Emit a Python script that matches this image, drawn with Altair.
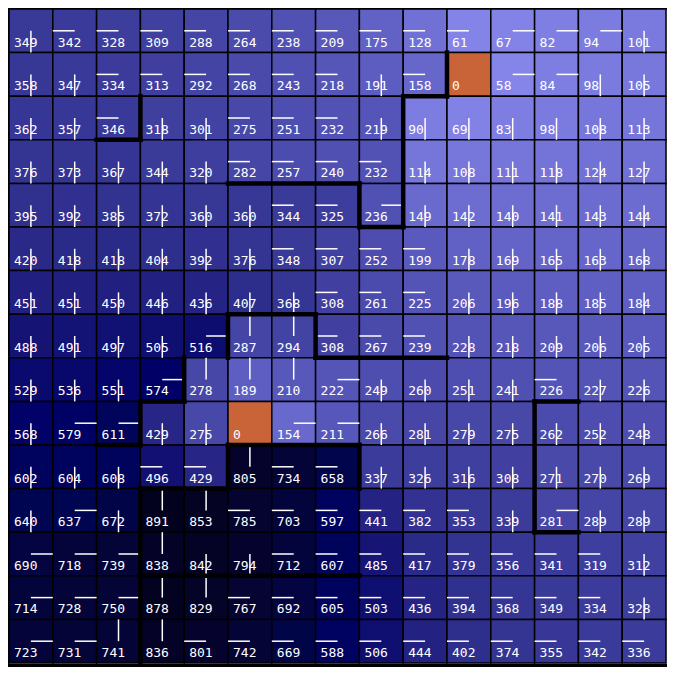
import altair as alt
import pandas as pd

# State values of the 15x15 grid (row 0 = top)
values = [
    [349, 342, 328, 309, 288, 264, 238, 209, 175, 128, 61, 67, 82, 94, 101],
    [358, 347, 334, 313, 292, 268, 243, 218, 191, 158, 0, 58, 84, 98, 105],
    [362, 357, 346, 318, 301, 275, 251, 232, 219, 90, 69, 83, 98, 108, 113],
    [376, 373, 367, 344, 320, 282, 257, 240, 232, 114, 108, 111, 118, 124, 127],
    [395, 392, 385, 372, 360, 360, 344, 325, 236, 149, 142, 140, 141, 143, 144],
    [420, 418, 418, 404, 392, 376, 348, 307, 252, 199, 178, 169, 165, 163, 168],
    [451, 451, 450, 446, 436, 407, 368, 308, 261, 225, 206, 196, 188, 185, 184],
    [488, 491, 497, 505, 516, 287, 294, 308, 267, 239, 228, 218, 209, 206, 205],
    [529, 536, 551, 574, 278, 189, 210, 222, 249, 260, 251, 241, 226, 227, 226],
    [568, 579, 611, 429, 275, 0, 154, 211, 266, 281, 279, 275, 262, 252, 248],
    [602, 604, 608, 496, 429, 805, 734, 658, 337, 326, 316, 308, 271, 270, 269],
    [640, 637, 672, 891, 853, 785, 703, 597, 441, 382, 353, 339, 281, 289, 289],
    [690, 718, 739, 838, 842, 794, 712, 607, 485, 417, 379, 356, 341, 319, 312],
    [714, 728, 750, 878, 829, 767, 692, 605, 503, 436, 394, 368, 349, 334, 328],
    [723, 731, 741, 836, 801, 742, 669, 588, 506, 444, 402, 374, 355, 342, 336],
]

# Policy glyph per cell: U/D/L/R, "." = none
arrows = [
    "DLLLLLLLLLLRRRD",
    "DDLLLLLLDL.RRDD",
    "DDLDDLLLDDDDDDD",
    "DDDDDLLLLDDDDDD",
    "DDDDDDLLRDDDDDD",
    "DDDDDDLLLLDDDDD",
    "DDDDDDDLLLDDDDD",
    "DDDDRUULLLDDDDD",
    "DDDRUUURDDDDLDD",
    "DRRDD.RRDDDDDDD",
    "DDDLLULLDDDDDDD",
    "DRDUULLLLLLDRDD",
    "RRRUDDLLLLLLLLD",
    "RRRUULLLLLLLLLD",
    "RRUULLLLLLLLLLL",
]

# Wall segments in grid units (x1, y1, x2, y2)
walls = [
    (2, 3, 3, 3), (3, 2, 3, 3),
    (10, 1, 10, 2), (9, 2, 10, 2), (9, 2, 9, 5), (8, 5, 9, 5), (8, 4, 8, 5), (5, 4, 8, 4),
    (5, 7, 7, 7), (5, 7, 5, 8), (7, 7, 7, 8), (7, 8, 10, 8),
    (4, 8, 4, 9), (3, 9, 4, 9), (3, 9, 3, 10), (2, 10, 3, 10),
    (3, 11, 5, 11), (5, 10, 5, 11), (5, 10, 8, 10), (8, 10, 8, 11), (3, 11, 3, 15), (3, 13, 8, 13),
    (12, 9, 13, 9), (12, 9, 12, 12), (12, 12, 13, 12),
]

color_domain = [0, 100, 200, 300, 400, 500, 575, 700, 900]
color_range = ["#9494f8", "#7a7ade", "#5a5abe", "#4242a2", "#2f2f8e",
               "#101072", "#000066", "#04043e", "#02021c"]

step = {"U": (0, -0.5), "D": (0, 0.5), "L": (-0.5, 0), "R": (0.5, 0)}
cells = []
for r, row in enumerate(values):
    for c, v in enumerate(row):
        a = arrows[r][c]
        cx, cy = c + 0.5, r + 0.5
        d = step.get(a, (0, 0))
        cells.append(dict(r=r, c=c, r2=r + 1, c2=c + 1, v=v, a=a,
                          cx=cx, cy=cy, ex=cx + d[0], ey=cy + d[1]))
df = pd.DataFrame(cells)
wdf = pd.DataFrame(walls, columns=["x1", "y1", "x2", "y2"])

xs = alt.Scale(domain=[0, 15], nice=False, zero=False)
ys = alt.Scale(domain=[0, 15], nice=False, zero=False, reverse=True)

rects = alt.Chart(df).mark_rect(stroke="black", strokeWidth=1.5).encode(
    x=alt.X("c:Q", scale=xs, axis=None),
    x2="c2:Q",
    y=alt.Y("r:Q", scale=ys, axis=None),
    y2="r2:Q",
    color=alt.condition(
        "datum.v == 0",
        alt.value("#c86438"),
        alt.Color("v:Q", scale=alt.Scale(domain=color_domain, range=color_range), legend=None),
    ),
)

glyphs = alt.Chart(df).transform_filter("datum.a != '.'").mark_rule(
    color="white", strokeWidth=1.5
).encode(
    x=alt.X("cx:Q", scale=xs, axis=None),
    y=alt.Y("cy:Q", scale=ys, axis=None),
    x2="ex:Q",
    y2="ey:Q",
)

labels = alt.Chart(df).mark_text(
    color="white", font="DejaVu Sans Mono", fontSize=13,
    align="left", baseline="alphabetic", dx=5, dy=-6
).encode(
    x=alt.X("c:Q", scale=xs, axis=None),
    y=alt.Y("r2:Q", scale=ys, axis=None),
    text="v:Q",
)

wall_marks = alt.Chart(wdf).mark_rule(color="black", strokeWidth=4.5, strokeCap="square").encode(
    x=alt.X("x1:Q", scale=xs, axis=None),
    y=alt.Y("y1:Q", scale=ys, axis=None),
    x2="x2:Q",
    y2="y2:Q",
)

chart = alt.layer(rects, glyphs, labels, wall_marks).properties(
    width=659, height=659, padding=0,
    autosize=alt.AutoSizeParams(type="fit", contains="padding"),
).configure_view(stroke=None).configure(background="black")

chart.save("out.html", embed_options={"renderer": "svg", "actions": False})
